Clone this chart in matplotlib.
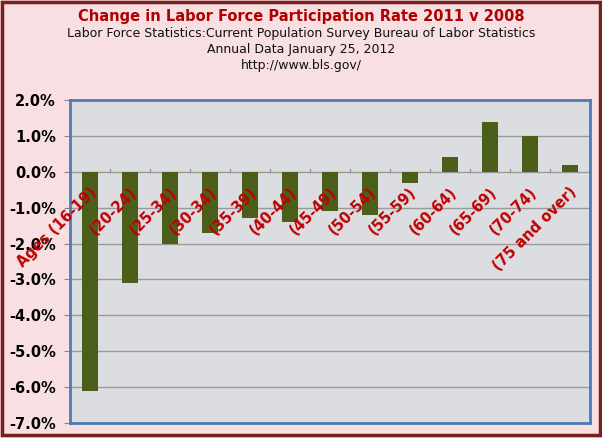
import matplotlib.pyplot as plt
from matplotlib.patches import Rectangle
from matplotlib.ticker import FuncFormatter
import matplotlib.transforms as mtrans

# data (percentage points)
age_groups = ["Ages (16-19)", "(20-24)", "(25-34)", "(30-34)", "(35-39)", "(40-44)",
              "(45-49)", "(50-54)", "(55-59)", "(60-64)", "(65-69)", "(70-74)",
              "(75 and over)"]
change = [-6.1, -3.1, -2.0, -1.7, -1.3, -1.4, -1.1, -1.2, -0.3, 0.4, 1.4, 1.0, 0.2]
y_ticks = [2, 1, 0, -1, -2, -3, -4, -5, -6, -7]

title = "Change in Labor Force Participation Rate 2011 v 2008"
subtitle = ["Labor Force Statistics:Current Population Survey Bureau of Labor Statistics",
            "Annual Data January 25, 2012",
            "http://www.bls.gov/"]

fig = plt.figure(figsize=(6.02, 4.38), dpi=100, facecolor="#f7dfe2")
fig.patches.append(Rectangle((0.004, 0.006), 0.992, 0.99, transform=fig.transFigure,
                             fill=False, edgecolor="#7b1e1e", linewidth=2.5))

ax = fig.add_axes([70 / 602, 1 - 423 / 438, 520 / 602, 323 / 438])
ax.set_facecolor("#dcdde1")

x = list(range(len(change)))
ax.bar(x, change, width=0.4, color="#4b5e1a", zorder=3)

ax.set_xlim(-0.5, len(change) - 0.5)
ax.set_ylim(-7, 2)
ax.set_yticks(y_ticks)
ax.yaxis.set_major_formatter(FuncFormatter(lambda v, p: "%.1f%%" % v))
ax.tick_params(axis="y", length=4, width=0.8, color="#888888", labelsize=10.5, pad=6)
for lab in ax.get_yticklabels():
    lab.set_fontweight("bold")
ax.set_xticks([])
ax.grid(axis="y", color="#9a9a9a", linewidth=1, zorder=1)
for s in ax.spines.values():
    s.set_color("#4f7ab8")
    s.set_linewidth(2)

# category boundary ticks on the zero line
for b in range(1, len(change)):
    ax.plot([b - 0.5, b - 0.5], [0, 0.08], color="#888888", linewidth=0.8, zorder=2)

# category labels, rotated, hanging under the zero line
off = mtrans.offset_copy(ax.transData, fig=fig, x=3, y=-13, units="points")
for i, lab in enumerate(age_groups):
    ax.text(i, 0, lab, transform=off, rotation=45, rotation_mode="anchor",
            ha="right", va="center", color="#c00000", fontsize=10.5,
            fontweight="bold", zorder=4)

fig.text(0.5, 1 - 17 / 438, title, ha="center", va="center", color="#b00000",
         fontsize=10.5, fontweight="bold")
for k, line in enumerate(subtitle):
    fig.text(0.5, 1 - (33 + 16 * k) / 438, line, ha="center", va="center",
             color="#111111", fontsize=9)

fig.savefig("out.png", dpi=100, facecolor=fig.get_facecolor())
